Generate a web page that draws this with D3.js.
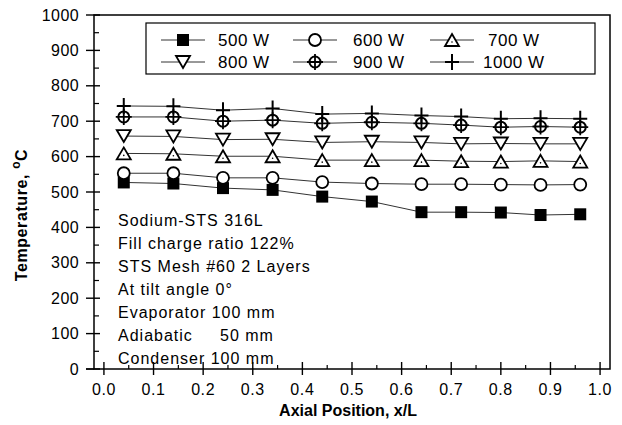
<!DOCTYPE html>
<html>
<head>
<meta charset="utf-8">
<script src="https://cdn.jsdelivr.net/npm/d3@7/dist/d3.min.js"></script>
<style>
  body { margin: 0; background: #fff; }
  text { font-family: "Liberation Sans", Arial, sans-serif; fill: #000; }
</style>
</head>
<body>
<div id="chart"></div>
<script>
// Data
var positions = [0.04, 0.14, 0.24, 0.34, 0.44, 0.54, 0.64, 0.72, 0.80, 0.88, 0.96];
var t500 = [527, 524, 511, 506, 487, 473, 443, 443, 442, 435, 437];
var t600 = [553, 553, 540, 540, 528, 524, 522, 522, 521, 520, 521];
var t700 = [609, 608, 601, 601, 590, 590, 590, 587, 586, 588, 586];
var t800 = [658, 657, 648, 649, 640, 642, 640, 636, 637, 636, 636];
var t900 = [712, 712, 700, 703, 694, 697, 694, 689, 683, 685, 683];
var t1000 = [743, 742, 731, 736, 720, 722, 716, 713, 707, 708, 707];
var seriesNames = ["500 W", "600 W", "700 W", "800 W", "900 W", "1000 W"];
var xTicks = [0.0, 0.1, 0.2, 0.3, 0.4, 0.5, 0.6, 0.7, 0.8, 0.9, 1.0];
var yTicks = [0, 100, 200, 300, 400, 500, 600, 700, 800, 900, 1000];
var notes = ["Sodium-STS 316L", "Fill charge ratio 122%", "STS Mesh #60 2 Layers",
  "At tilt angle 0\u00b0", "Evaporator 100 mm", "Adiabatic     50 mm", "Condenser 100 mm"];

var series = [
  { name: seriesNames[0], values: t500, shape: "square" },
  { name: seriesNames[1], values: t600, shape: "circle" },
  { name: seriesNames[2], values: t700, shape: "up" },
  { name: seriesNames[3], values: t800, shape: "down" },
  { name: seriesNames[4], values: t900, shape: "circleplus" },
  { name: seriesNames[5], values: t1000, shape: "plus" }
];

var width = 622, height = 425;
// plot frame edges (window.top is taken, so prefixed names)
var pLeft = 94, pRight = 610, pTop = 15, pBottom = 369;

var svg = d3.select("#chart")
  .append("svg")
  .attr("width", width)
  .attr("height", height);

var x = d3.scaleLinear().domain([-0.02, 1.02]).range([pLeft, pRight]);
var y = d3.scaleLinear().domain([0, 1000]).range([pBottom, pTop]);

// Draw one marker into a group placed at its point
function drawSymbol(g, shape) {
  if (shape == "square") {
    g.append("rect").attr("x", -6).attr("y", -6).attr("width", 12).attr("height", 12)
      .attr("fill", "#000");
  } else if (shape == "circle") {
    g.append("circle").attr("r", 6).attr("fill", "#fff")
      .attr("stroke", "#000").attr("stroke-width", 1.8);
  } else if (shape == "up") {
    g.append("path").attr("d", "M0,-6L7,6L-7,6Z").attr("fill", "#fff")
      .attr("stroke", "#000").attr("stroke-width", 1.8);
    g.append("circle").attr("r", 0.8).attr("cy", 2).attr("fill", "#000");
  } else if (shape == "down") {
    g.append("path").attr("d", "M0,6L7,-6L-7,-6Z").attr("fill", "#fff")
      .attr("stroke", "#000").attr("stroke-width", 1.8);
  } else if (shape == "circleplus") {
    g.append("circle").attr("r", 5.5).attr("fill", "#fff")
      .attr("stroke", "#000").attr("stroke-width", 2);
    g.append("path").attr("d", "M-8,0H8M0,-8V8")
      .attr("stroke", "#000").attr("stroke-width", 1.8);
  } else if (shape == "plus") {
    g.append("path").attr("d", "M-7,0H7M0,-8V8")
      .attr("stroke", "#000").attr("stroke-width", 2);
  }
}

// Frame
svg.append("rect")
  .attr("x", pLeft).attr("y", pTop)
  .attr("width", pRight - pLeft).attr("height", pBottom - pTop)
  .attr("fill", "none").attr("stroke", "#000").attr("stroke-width", 1.5);

// Bottom axis: major ticks cross the axis, minor ticks point inward
var xAxis = svg.append("g").attr("transform", "translate(0," + pBottom + ")");
xAxis.selectAll(".major").data(xTicks).enter().append("line")
  .attr("x1", function (d) { return x(d); }).attr("x2", function (d) { return x(d); })
  .attr("y1", -7).attr("y2", 6).attr("stroke", "#000").attr("stroke-width", 1.4);
xAxis.selectAll(".minor").data(xTicks.slice(0, -1)).enter().append("line")
  .attr("x1", function (d) { return x(d + 0.05); }).attr("x2", function (d) { return x(d + 0.05); })
  .attr("y1", -4).attr("y2", 0).attr("stroke", "#000").attr("stroke-width", 1.2);
xAxis.selectAll("text").data(xTicks).enter().append("text")
  .attr("x", function (d) { return x(d); })
  .attr("y", 26)
  .attr("text-anchor", "middle")
  .style("font-size", "16px").style("letter-spacing", "0.6px")
  .text(function (d) { return d3.format(".1f")(d); });
// little stub where the axis runs past the frame
xAxis.append("line").attr("x1", pLeft - 8).attr("x2", pLeft).attr("y1", 0).attr("y2", 0)
  .attr("stroke", "#000").attr("stroke-width", 1.4);

// Left axis
var yAxis = svg.append("g");
yAxis.selectAll(".major").data(yTicks).enter().append("line")
  .attr("x1", pLeft - 8).attr("x2", pLeft + 6)
  .attr("y1", function (d) { return y(d); }).attr("y2", function (d) { return y(d); })
  .attr("stroke", "#000").attr("stroke-width", 1.4);
yAxis.selectAll(".minor").data(yTicks.slice(0, -1)).enter().append("line")
  .attr("x1", pLeft).attr("x2", pLeft + 5)
  .attr("y1", function (d) { return y(d + 50); }).attr("y2", function (d) { return y(d + 50); })
  .attr("stroke", "#000").attr("stroke-width", 1.2);
yAxis.selectAll("text").data(yTicks).enter().append("text")
  .attr("x", pLeft - 15)
  .attr("y", function (d) { return y(d) + 5.5; })
  .attr("text-anchor", "end")
  .style("font-size", "16px").style("letter-spacing", "0.4px")
  .text(function (d) { return d; });

// Axis titles
svg.append("text")
  .attr("x", 348).attr("y", 416)
  .attr("text-anchor", "middle")
  .style("font-size", "16px").style("font-weight", "bold")
  .text("Axial Position, x/L");

var yTitle = svg.append("text")
  .attr("transform", "translate(27,215) rotate(-90)")
  .attr("text-anchor", "middle")
  .style("font-size", "16px").style("font-weight", "bold").style("letter-spacing", "0.6px");
yTitle.append("tspan").text("Temperature, ");
yTitle.append("tspan").attr("dy", -7).style("font-size", "12px").text("o");
yTitle.append("tspan").attr("dy", 7).text("C");

// Lines and markers
var line = d3.line()
  .x(function (d, i) { return x(positions[i]); })
  .y(function (d) { return y(d); });

series.forEach(function (s) {
  svg.append("path")
    .datum(s.values)
    .attr("fill", "none")
    .attr("stroke", "#333")
    .attr("stroke-width", 1)
    .attr("d", line);
});

series.forEach(function (s) {
  svg.selectAll(null).data(s.values).enter().append("g")
    .attr("transform", function (d, i) { return "translate(" + x(positions[i]) + "," + y(d) + ")"; })
    .each(function () { drawSymbol(d3.select(this), s.shape); });
});

// Notes in the lower left
svg.append("g").selectAll("text").data(notes).enter().append("text")
  .attr("x", 118)
  .attr("y", function (d, i) { return 226 + i * 23; })
  .attr("xml:space", "preserve")
  .style("font-size", "16px").style("letter-spacing", "1px")
  .text(function (d) { return d; });

// Legend
var legend = svg.append("g");
legend.append("rect")
  .attr("x", 146).attr("y", 23).attr("width", 449).attr("height", 51)
  .attr("fill", "#fff").attr("stroke", "#000").attr("stroke-width", 1.2);

var legendCols = [183, 315, 452];
var legendTextX = [218, 353, 488, 218, 353, 483];
var legendRows = [40, 62];

series.forEach(function (s, i) {
  var cx = legendCols[i % 3], cy = legendRows[Math.floor(i / 3)];
  var g = legend.append("g").attr("transform", "translate(" + cx + "," + cy + ")");
  g.append("line").attr("x1", -22).attr("x2", 22).attr("y1", 0).attr("y2", 0)
    .attr("stroke", "#333").attr("stroke-width", 1);
  drawSymbol(g, s.shape);
  legend.append("text")
    .attr("x", legendTextX[i]).attr("y", cy + 6)
    .style("font-size", "17px").style("letter-spacing", "0.5px")
    .text(s.name);
});
</script>
</body>
</html>
